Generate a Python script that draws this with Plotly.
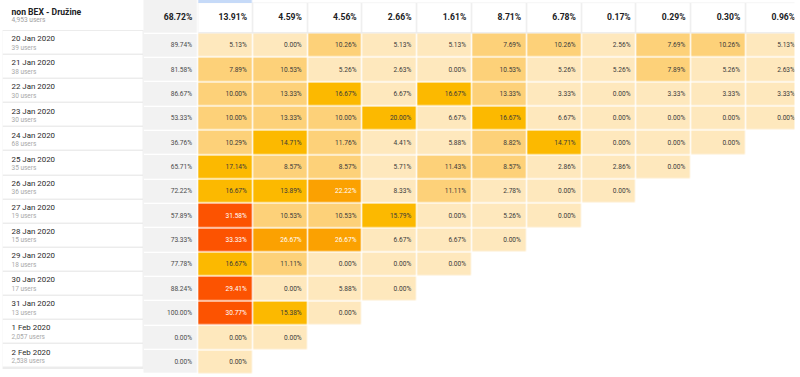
import plotly.graph_objects as go

# ---------------- data ----------------
cohort_title = "non BEX - Družine"
cohort_users = "4,953 users"

dates = ["20 Jan 2020", "21 Jan 2020", "22 Jan 2020", "23 Jan 2020", "24 Jan 2020",
         "25 Jan 2020", "26 Jan 2020", "27 Jan 2020", "28 Jan 2020", "29 Jan 2020",
         "30 Jan 2020", "31 Jan 2020", "1 Feb 2020", "2 Feb 2020"]
users = ["39 users", "38 users", "30 users", "30 users", "68 users", "35 users", "36 users",
         "19 users", "15 users", "18 users", "17 users", "13 users", "2,057 users", "2,538 users"]

header_pct = [68.72, 13.91, 4.59, 4.56, 2.66, 1.61, 8.71, 6.78, 0.17, 0.29, 0.30, 0.96]

day0 = [89.74, 81.58, 86.67, 53.33, 36.76, 65.71, 72.22, 57.89, 73.33, 77.78, 88.24, 100.00, 0.00, 0.00]

retention = [
    [5.13, 0.00, 10.26, 5.13, 5.13, 7.69, 10.26, 2.56, 7.69, 10.26, 5.13],
    [7.89, 10.53, 5.26, 2.63, 0.00, 10.53, 5.26, 5.26, 7.89, 5.26, 2.63],
    [10.00, 13.33, 16.67, 6.67, 16.67, 13.33, 3.33, 0.00, 3.33, 3.33, 3.33],
    [10.00, 13.33, 10.00, 20.00, 6.67, 16.67, 6.67, 0.00, 0.00, 0.00, 0.00],
    [10.29, 14.71, 11.76, 4.41, 5.88, 8.82, 14.71, 0.00, 0.00, 0.00],
    [17.14, 8.57, 8.57, 5.71, 11.43, 8.57, 2.86, 2.86, 0.00],
    [16.67, 13.89, 22.22, 8.33, 11.11, 2.78, 0.00, 0.00],
    [31.58, 10.53, 10.53, 15.79, 0.00, 5.26, 0.00],
    [33.33, 26.67, 26.67, 6.67, 6.67, 0.00],
    [16.67, 11.11, 0.00, 0.00, 0.00],
    [29.41, 0.00, 5.88, 0.00],
    [30.77, 15.38, 0.00],
    [0.00, 0.00],
    [0.00],
]

# ---------------- styling ----------------
FONT = "Roboto"
SHADES = ["#fee8bd", "#fdd179", "#fcb900", "#fba101", "#fc5301"]
LIGHT_TEXT_LEVEL = 3
pale_override = {(6, 4)}  # cell shown with the lightest shade in the original


def level(v):
    if v < 7.5:
        return 0
    if v < 13.5:
        return 1
    if v < 21:
        return 2
    if v < 28:
        return 3
    return 4


# pixel -> axis helpers (layout geometry only)
COLW, X0 = 54.8, 170.9
ROWH, Y0 = 24.35, 45.7


def px_x(p):
    return (p - X0) / COLW


def px_y(p):
    return (p - Y0) / ROWH


n_rows = len(dates)
n_cols = max(len(r) for r in retention)

z = []
for k, row in enumerate(retention):
    zr = []
    for j in range(n_cols):
        if j < len(row):
            lv = 0 if (k, j + 1) in pale_override else level(row[j])
            zr.append(lv)
        else:
            zr.append(None)
    z.append(zr)

colorscale = [[i / 4, c] for i, c in enumerate(SHADES)]

fig = go.Figure()


def solid(color):
    return [[0, color], [1, color]]


# label column: grey base + white rows (gaps form separators)
fig.add_trace(go.Heatmap(x=[px_x(2.6), px_x(143.4)], y=[px_y(30.0), px_y(369.4)], z=[[0]],
                         colorscale=solid("#ececec"), showscale=False, hoverinfo="skip"))
label_edges = [px_y(0)] + [px_y(30.9 + 24.1 * k) for k in range(n_rows + 1)]
fig.add_trace(go.Heatmap(x=[px_x(2.6), px_x(143.9)], y=label_edges,
                         z=[[0] for _ in range(n_rows + 1)], colorscale=solid("#ffffff"),
                         showscale=False, xgap=1, ygap=1.5, hoverinfo="skip"))

# header cells for day columns
fig.add_trace(go.Heatmap(x=[0.5, n_cols + 0.5], y=[px_y(2.6), px_y(33.4)], z=[[0]],
                         colorscale=solid("#ececec"), showscale=False, hoverinfo="skip"))
fig.add_trace(go.Heatmap(x=list(range(1, n_cols + 1)), y=[px_y(3.1), px_y(33.4)],
                         z=[[0] * n_cols], colorscale=solid("#ffffff"), showscale=False,
                         xgap=1.4, ygap=1, hoverinfo="skip"))
# selected column marker
fig.add_trace(go.Heatmap(x=[1], y=[px_y(0), px_y(3.2)], z=[[0]], colorscale=solid("#c6daf8"),
                         showscale=False, xgap=1.4, hoverinfo="skip"))

# day 0 column (grey)
day0_edges = [px_y(0)] + [k - 0.5 for k in range(n_rows + 1)]
fig.add_trace(go.Heatmap(x=[0], y=day0_edges, z=[[0] for _ in range(n_rows + 1)],
                         colorscale=solid("#f2f2f2"), showscale=False, xgap=1.4, ygap=1.35,
                         hoverinfo="skip"))

# retention cells
fig.add_trace(go.Heatmap(x=list(range(1, n_cols + 1)), y=list(range(n_rows)), z=z,
                         colorscale=colorscale, zmin=0, zmax=4, showscale=False,
                         xgap=1.4, ygap=1.35, hoverinfo="skip"))

# ---------------- texts ----------------
TXT_DX = 0.5 - 6.2 / COLW

# header percentages
fig.add_trace(go.Scatter(x=[i + 0.5 - 6.0 / COLW for i in range(len(header_pct))],
                         y=[px_y(18.3)] * len(header_pct),
                         text=[f"{v:.2f}%" for v in header_pct], mode="text",
                         textposition="middle left",
                         textfont=dict(family=FONT, size=8.6, color="#202124", weight="bold"),
                         hoverinfo="skip"))

# day 0 values
fig.add_trace(go.Scatter(x=[TXT_DX] * n_rows, y=list(range(n_rows)),
                         text=[f"{v:.2f}%" for v in day0], mode="text",
                         textposition="middle left",
                         textfont=dict(family=FONT, size=6.6, color="#4a4a4a"),
                         hoverinfo="skip"))

dx, dy, dt, lx, ly, lt = [], [], [], [], [], []
for k, row in enumerate(retention):
    for j, v in enumerate(row):
        if z[k][j] >= LIGHT_TEXT_LEVEL:
            lx.append(j + 1 + TXT_DX); ly.append(k); lt.append(f"{v:.2f}%")
        else:
            dx.append(j + 1 + TXT_DX); dy.append(k); dt.append(f"{v:.2f}%")

fig.add_trace(go.Scatter(x=dx, y=dy, text=dt, mode="text", textposition="middle left",
                         textfont=dict(family=FONT, size=6.6, color="#3a3a3a"), hoverinfo="skip"))
fig.add_trace(go.Scatter(x=lx, y=ly, text=lt, mode="text", textposition="middle left",
                         textfont=dict(family=FONT, size=6.6, color="#ffffff"), hoverinfo="skip"))

# row labels
LBL_X = px_x(11.5)
fig.add_trace(go.Scatter(x=[LBL_X], y=[px_y(12.7)], text=[cohort_title], mode="text",
                         textposition="middle right",
                         textfont=dict(family=FONT, size=8.6, color="#202124", weight="bold"),
                         hoverinfo="skip"))
fig.add_trace(go.Scatter(x=[LBL_X], y=[px_y(20.7)], text=[cohort_users], mode="text",
                         textposition="middle right",
                         textfont=dict(family=FONT, size=6.6, color="#a0a0a0"),
                         hoverinfo="skip"))
fig.add_trace(go.Scatter(x=[LBL_X] * n_rows, y=[px_y(39.3 + 24.1 * k) for k in range(n_rows)],
                         text=dates, mode="text", textposition="middle right",
                         textfont=dict(family=FONT, size=7.9, color="#2a2a2a"),
                         hoverinfo="skip"))
fig.add_trace(go.Scatter(x=[LBL_X] * n_rows, y=[px_y(48.0 + 24.1 * k) for k in range(n_rows)],
                         text=users, mode="text", textposition="middle right",
                         textfont=dict(family=FONT, size=6.5, color="#a8a8a8"),
                         hoverinfo="skip"))

fig.update_layout(
    width=800, height=377,
    margin=dict(l=0, r=0, t=0, b=0),
    paper_bgcolor="#ffffff", plot_bgcolor="#ffffff",
    showlegend=False,
    xaxis=dict(range=[px_x(0), px_x(800)], visible=False, fixedrange=True),
    yaxis=dict(range=[px_y(377), px_y(0)], visible=False, fixedrange=True),
    shapes=[dict(type="rect", xref="paper", yref="paper", x0=794.5 / 800, x1=1, y0=0, y1=1,
                 fillcolor="#ffffff", line=dict(width=0), layer="above")],
)

fig.write_html("out.html", config={"displayModeBar": False},
               post_script="document.body.style.margin='0';document.body.style.overflow='hidden';")
